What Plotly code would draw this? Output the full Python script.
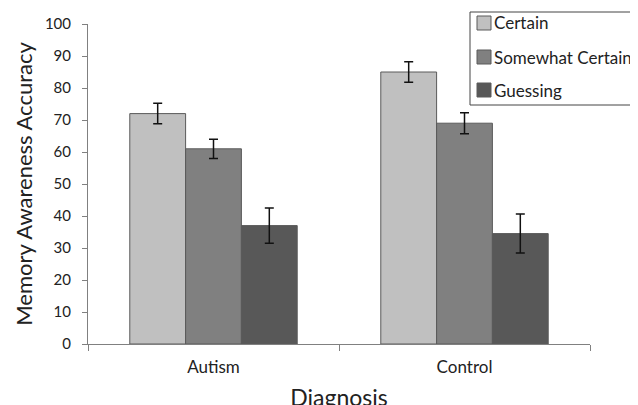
import plotly.graph_objects as go

categories = ["Autism", "Control"]
series_names = ["Certain", "Somewhat Certain", "Guessing"]
certain = [72, 85]
somewhat = [61, 69]
guessing = [37, 34.5]
certain_err = [3.2, 3.2]
somewhat_err = [3.0, 3.3]
guessing_err = [5.5, 6.1]

values = [certain, somewhat, guessing]
errors = [certain_err, somewhat_err, guessing_err]
colors = ["#c0c0c0", "#808080", "#585858"]

FONT = "Lato"
TXT = "#222222"
W, H = 638, 405
OFF = 8  # page body margin offsets the figure on screen
# plot area in screen pixels: x 88..590, y 24..344
L, T = 88 - OFF, 24 - OFF
R, B = W - (590 - OFF), H - (344 - OFF)
PW, PH = W - L - R, H - T - B


def px(x):  # screen pixel -> paper x
    return (x - OFF - L) / PW


def py(y):  # screen pixel -> paper y
    return (H - B - (y - OFF)) / PH


fig = go.Figure()
for name, vals, errs, col in zip(series_names, values, errors, colors):
    fig.add_trace(go.Bar(
        x=categories, y=vals, name=name, showlegend=False,
        marker=dict(color=col, line=dict(color="#5a5a5a", width=1)),
        error_y=dict(type="data", array=errs, visible=True, color="#111111",
                     thickness=1.5, width=4.5),
    ))

# custom legend (box, swatches, labels)
shapes = [dict(type="rect", xref="paper", yref="paper",
               x0=px(470), x1=px(633), y0=py(105), y1=py(12),
               line=dict(color="#444444", width=1), fillcolor="white", layer="above")]
annotations = []
row_centers = [23, 57, 90]
for name, col, yc in zip(series_names, colors, row_centers):
    shapes.append(dict(type="rect", xref="paper", yref="paper",
                       x0=px(477), x1=px(491), y0=py(yc + 7), y1=py(yc - 7),
                       line=dict(color="#5a5a5a", width=1), fillcolor=col, layer="above"))
    annotations.append(dict(text=name, xref="paper", yref="paper",
                            x=px(492), y=py(yc), xanchor="left", yanchor="middle",
                            showarrow=False, font=dict(size=17, family=FONT, color=TXT)))

fig.update_layout(
    width=W, height=H,
    margin=dict(l=L, r=R, t=T, b=B, autoexpand=False),
    paper_bgcolor="white", plot_bgcolor="white",
    barmode="group", bargap=0.333, bargroupgap=0,
    font=dict(family=FONT, color=TXT, size=15),
    showlegend=False,
    shapes=shapes, annotations=annotations,
    xaxis=dict(
        showline=True, linecolor="#808080", linewidth=1,
        ticks="outside", tickson="boundaries", ticklen=6, tickcolor="#808080",
        ticklabelstandoff=8,
        tickfont=dict(size=17, family=FONT, color=TXT),
        title=dict(text="Diagnosis", font=dict(size=23, family=FONT, color=TXT), standoff=13),
        showgrid=False,
    ),
    yaxis=dict(
        range=[0, 100], tickvals=list(range(0, 101, 10)),
        showline=True, linecolor="#808080", linewidth=1,
        ticks="outside", ticklen=5, tickcolor="#808080",
        ticklabelstandoff=8,
        tickfont=dict(size=15, family=FONT, color=TXT),
        title=dict(text="Memory Awareness Accuracy", font=dict(size=22, family=FONT, color=TXT), standoff=6),
        showgrid=False, zeroline=False,
    ),
)

fig.write_html("out.html")
